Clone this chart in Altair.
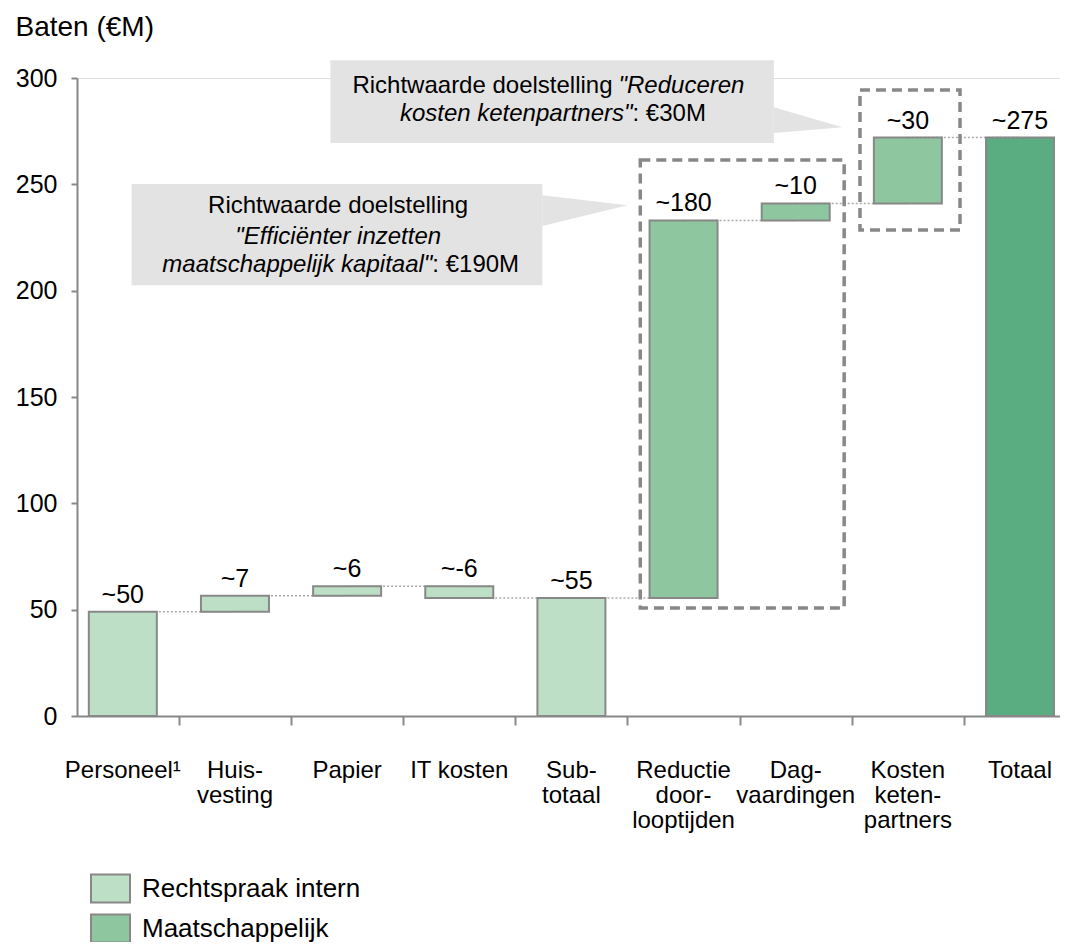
import altair as alt
import pandas as pd

# ---------------- data ----------------
categories = ["Personeel¹", "Huis-\nvesting", "Papier", "IT kosten", "Sub-\ntotaal",
              "Reductie\ndoor-\nlooptijden", "Dag-\nvaardingen", "Kosten\nketen-\npartners", "Totaal"]
amounts = [49, 7.5, 4.5, -5.5, 55.5, 177.5, 8, 31, 272]
is_total = [True, False, False, False, True, False, False, False, True]
groups = ["Rechtspraak intern"] * 5 + ["Maatschappelijk"] * 3 + ["Totaal"]
value_labels = ["~50", "~7", "~6", "~-6", "~55", "~180", "~10", "~30", "~275"]

group_domain = ["Rechtspraak intern", "Maatschappelijk", "Totaal"]
group_colors = ["#bddfc5", "#8ec6a0", "#5aad81"]

# dashed boxes (data units)
box_x0 = [4.614, 6.573]
box_x1 = [6.432, 7.465]
box_y0 = [50.8, 228.5]
box_y1 = [261.4, 294.3]

# callout boxes
call_x0 = [0.078, 1.851]
call_x1 = [3.741, 5.805]
call_y0 = [202.6, 269.4]
call_y1 = [250.1, 308.4]

# callout pointers
ptr_id = ["a", "a", "b", "b"]
ptr_x = [3.741, 4.50, 5.805, 6.415]
ptr_y = [244.9, 240.2, 286.3, 276.9]
ptr_y2 = [230.4, 240.2, 274.1, 276.9]

# callout texts
ct_x = [1.92, 1.92, 2.76, 2.76, 4.367, 4.420, 4.545, 4.545]
ct_y = [239.8, 225.4, 212.0, 212.0, 296.2, 296.2, 283.0, 283.0]
ct_text = ["Richtwaarde doelstelling", "\"Efficiënter inzetten", "maatschappelijk kapitaal\"", ": €190M",
           "Richtwaarde doelstelling", "\"Reduceren", "kosten ketenpartners\"", ": €30M"]
ct_align = ["center", "center", "right", "left", "right", "left", "right", "left"]
ct_style = ["normal", "italic", "italic", "normal", "normal", "italic", "italic", "normal"]

# ---------------- derived tables ----------------
starts, ends = [], []
running = 0.0
for amt, tot in zip(amounts, is_total):
    if tot:
        s, e = 0.0, amt
    else:
        s, e = running, running + amt
    running = e
    starts.append(s)
    ends.append(e)

idx = list(range(len(categories)))
bars = pd.DataFrame({
    "idx": idx, "cat": categories, "start": starts, "end": ends,
    "top": [max(s, e) for s, e in zip(starts, ends)],
    "group": groups, "label": value_labels,
})
conn = pd.DataFrame({"x0": idx[:-1], "x1": idx[1:], "lvl": ends[:-1]})
boxes = pd.DataFrame({"x0": box_x0, "x1": box_x1, "y0": box_y0, "y1": box_y1})
calls = pd.DataFrame({"x0": call_x0, "x1": call_x1, "y0": call_y0, "y1": call_y1})
ptrs = pd.DataFrame({"id": ptr_id, "x": ptr_x, "y": ptr_y, "y2": ptr_y2})

FONT = "Liberation Sans"
W, H = 983, 638

xscale = alt.Scale(domain=[-0.364, 8.312], nice=False, zero=False)
yscale = alt.Scale(domain=[0, 300], nice=False)

x_axis = alt.Axis(title=None, labels=False, values=[0.5 + i for i in range(8)], tickSize=9,
                  grid=False, domainColor="#888888", domainWidth=2, tickColor="#888888", tickWidth=2)
y_axis = alt.Axis(title="Baten (€M)", values=[0, 50, 100, 150, 200, 250, 300], grid=False,
                  tickSize=6, labelPadding=14, labelFontSize=25, labelColor="#000000", labelFont=FONT,
                  domainColor="#888888", domainWidth=2, tickColor="#888888", tickWidth=2,
                  titleAngle=0, titleAlign="left", titleBaseline="alphabetic",
                  titleX=-62, titleY=-43, titleFontSize=28, titleFontWeight="normal",
                  titleColor="#000000", titleFont=FONT)

base = alt.Chart(bars)

connectors = alt.Chart(conn).mark_rule(color="#aaaaaa", strokeDash=[2, 2], strokeWidth=1.5).encode(
    x=alt.X("x0:Q", scale=xscale, axis=x_axis),
    x2="x1:Q",
    y=alt.Y("lvl:Q", scale=yscale, axis=y_axis),
)

bar_layer = base.mark_bar(size=68, stroke="#888888", strokeWidth=2).encode(
    x=alt.X("idx:Q", scale=xscale, axis=x_axis),
    y=alt.Y("start:Q", scale=yscale, axis=y_axis),
    y2="end:Q",
    color=alt.Color("group:N", scale=alt.Scale(domain=group_domain, range=group_colors),
                    legend=alt.Legend(title=None, values=group_domain[:2], orient="none",
                                      legendX=13, legendY=790,
                                      symbolType="M-1,-0.72L1,-0.72L1,0.72L-1,0.72Z",
                                      symbolSize=1521, symbolStrokeColor="#888888",
                                      symbolStrokeWidth=2, symbolOpacity=1,
                                      labelFontSize=26, labelFont=FONT, labelColor="#000000",
                                      labelLimit=500, labelOffset=11, rowPadding=1)),
)

value_text = base.mark_text(baseline="alphabetic", dy=-9, fontSize=25, font=FONT, color="#000000").encode(
    x="idx:Q", y="top:Q", text="label:N",
)

cat_text = base.mark_text(baseline="alphabetic", fontSize=24, font=FONT, color="#000000",
                          lineBreak="\n", lineHeight=25, align="center").encode(
    x="idx:Q", y=alt.value(H + 62), text="cat:N",
)

dashed = alt.Chart(boxes).mark_rect(fill="transparent", stroke="#888888", strokeWidth=3.5,
                                   strokeDash=[10, 6]).encode(
    x="x0:Q", x2="x1:Q", y="y0:Q", y2="y1:Q",
)

call_rects = alt.Chart(calls).mark_rect(fill="#e3e3e3").encode(
    x="x0:Q", x2="x1:Q", y="y0:Q", y2="y1:Q",
)

call_ptrs = alt.Chart(ptrs).mark_area(color="#e3e3e3", opacity=1).encode(
    x="x:Q", y="y:Q", y2="y2:Q", detail="id:N",
)

call_texts = []
for x, y, t, a, s in zip(ct_x, ct_y, ct_text, ct_align, ct_style):
    d = pd.DataFrame({"x": [x], "y": [y], "t": [t]})
    call_texts.append(
        alt.Chart(d).mark_text(align=a, baseline="middle", fontSize=24, font=FONT,
                               fontStyle=s, color="#000000").encode(x="x:Q", y="y:Q", text="t:N")
    )

chart = alt.layer(
    call_rects, call_ptrs, connectors, bar_layer, dashed, value_text, cat_text, *call_texts
).properties(
    width=W, height=H,
    padding={"left": 69, "top": 70, "right": 0, "bottom": 226},
    autosize=alt.AutoSizeParams(type="none"),
).configure_view(stroke=None).configure(font=FONT)

chart.save("out.html", embed_options={"renderer": "svg", "actions": False})
